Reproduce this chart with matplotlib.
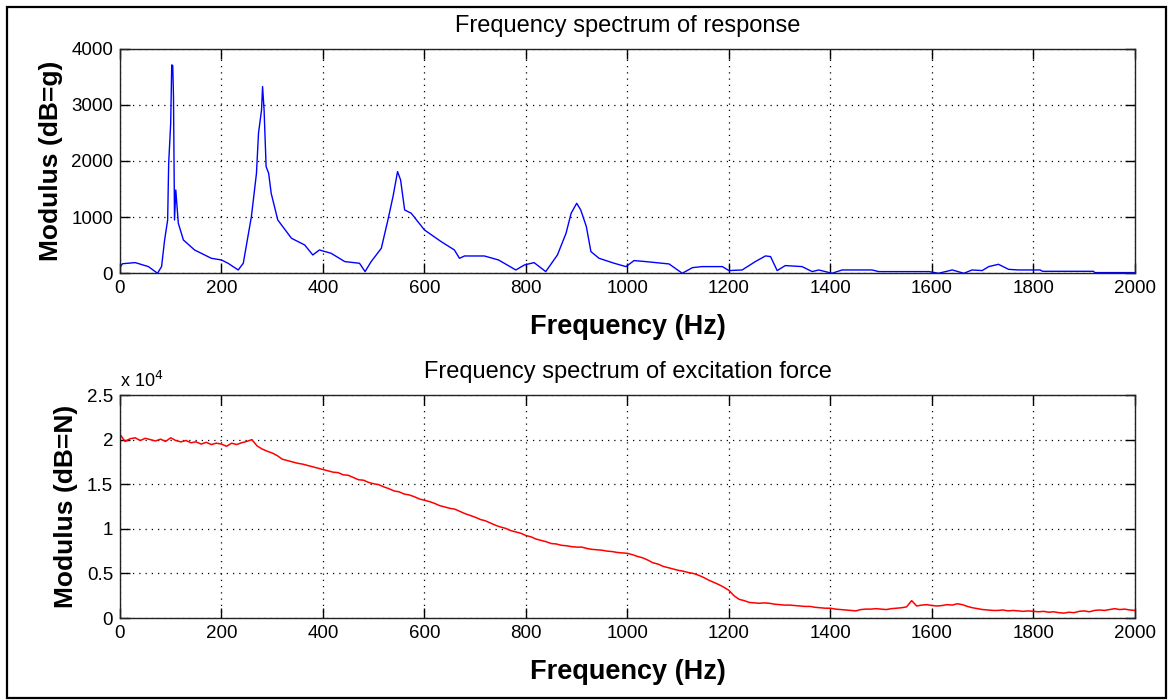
import numpy as np
import matplotlib
matplotlib.use("Agg")
import matplotlib.pyplot as plt
from matplotlib.patches import Rectangle
from matplotlib.ticker import FuncFormatter

plt.rcParams['font.family'] = ['Liberation Sans', 'DejaVu Sans']

# response spectrum (Hz, modulus)
resp_freq = [0, 5, 30, 56, 74, 82, 88, 94, 96, 100, 102, 104, 105.5, 107.5, 110, 115, 125,
             147, 180, 200, 213, 233, 243, 259, 269, 273, 279, 281, 284, 288, 293, 298,
             311, 338, 364, 380, 393, 416, 443, 472, 483, 495, 515, 528, 538, 547, 553,
             561, 574, 600, 633, 659, 669, 679, 718, 746, 780, 797, 816, 839, 862, 879,
             889, 900, 908, 919, 928, 944, 974, 997, 1013, 1036, 1082, 1108, 1128, 1147,
             1187, 1200, 1226, 1252, 1272, 1282, 1295, 1311, 1344, 1364, 1377, 1403, 1423,
             1482, 1495, 1594, 1613, 1640, 1663, 1679, 1699, 1712, 1731, 1751, 1770, 1813,
             1818, 1918, 1921, 2000]
resp_mod = [110, 170, 190, 119, 0, 119, 593, 949, 1958, 2670, 3709, 3700, 3145, 949, 1483, 890, 593,
            415, 267, 237, 178, 59, 178, 1009, 1780, 2493, 2908, 3324, 2908, 1899, 1780, 1424,
            949, 623, 504, 326, 415, 356, 208, 178, 30, 208, 445, 949, 1364, 1810, 1661,
            1127, 1068, 771, 563, 415, 267, 308, 308, 237, 59, 148, 190, 30, 326, 712,
            1068, 1246, 1127, 831, 386, 267, 178, 119, 226, 208, 166, 0, 100, 119,
            119, 48, 59, 208, 309, 297, 48, 137, 119, 30, 59, 0, 59,
            59, 30, 30, 0, 59, 0, 59, 48, 119, 160, 70, 59, 59,
            35, 35, 12, 12]

# excitation force spectrum, sampled every 10 Hz
force_freq = np.arange(0, 2001, 10)
force_mod = [
    20600, 19800, 20100, 20200, 19900, 20150, 20000, 19850, 20050, 19800,
    20200, 19900, 19750, 19900, 19650, 19750, 19500, 19700, 19450, 19600,
    19500, 19250, 19600, 19450, 19650, 19800, 20000, 19300, 18950, 18700,
    18500, 18200, 17800, 17650, 17500, 17350, 17250, 17100, 16950, 16800,
    16650, 16500, 16350, 16300, 16050, 16000, 15750, 15500, 15450, 15200,
    15050, 14950, 14700, 14500, 14250, 14150, 13900, 13800, 13600, 13350,
    13200, 13050, 12850, 12600, 12450, 12300, 12200, 11950, 11700, 11500,
    11300, 11050, 10900, 10650, 10400, 10200, 10050, 9800, 9650, 9500,
    9250, 9100, 8850, 8700, 8550, 8350, 8300, 8150, 8100, 8000,
    7950, 7950, 7800, 7700, 7650, 7600, 7500, 7450, 7350, 7300,
    7250, 7100, 6900, 6750, 6500, 6200, 6050, 5800, 5650, 5500,
    5350, 5250, 5100, 5000, 4800, 4550, 4250, 4000, 3750, 3450,
    3100, 2500, 2100, 1950, 1750, 1700, 1650, 1700, 1650, 1550,
    1500, 1450, 1450, 1400, 1350, 1300, 1300, 1200, 1150, 1100,
    1100, 1000, 950, 900, 850, 800, 950, 1000, 1000, 1050,
    1000, 950, 1050, 1100, 1150, 1250, 1950, 1350, 1450, 1500,
    1400, 1350, 1400, 1500, 1450, 1600, 1500, 1300, 1150, 1050,
    950, 900, 850, 850, 900, 800, 850, 800, 750, 800,
    750, 700, 750, 650, 700, 600, 550, 650, 600, 750,
    800, 700, 850, 900, 850, 950, 1050, 950, 1000, 900,
    850]

x_ticks = np.arange(0, 2001, 200)

fig = plt.figure(figsize=(11.68, 7.0), dpi=100)
fig.patches.append(Rectangle((0.006, 0.003), 0.992, 0.987, transform=fig.transFigure,
                             fill=False, edgecolor='black', linewidth=1.6))


def style_axes(ax):
    ax.grid(True, color='black', linestyle=(0, (1, 4)), linewidth=0.9)
    ax.tick_params(direction='in', length=7, width=1, top=True, right=True,
                   labelsize=13.5, pad=5)
    for s in ax.spines.values():
        s.set_linewidth(1.0)
        s.set_color('#222222')
    ax.set_xlim(0, 2000)
    ax.set_xticks(x_ticks)
    ax.set_xlabel("Frequency (Hz)", fontsize=19.5, fontweight='bold', labelpad=12)


ax1 = fig.add_axes([0.1027, 0.6096, 0.8690, 0.3210])
ax1.plot(resp_freq, resp_mod, color=(0, 0, 1), linewidth=1.0)
style_axes(ax1)
ax1.set_ylim(0, 4000)
ax1.set_yticks([0, 1000, 2000, 3000, 4000])
ax1.set_ylabel("Modulus (dB=g)", fontsize=19, fontweight='bold', labelpad=6)
ax1.set_title("Frequency spectrum of response", fontsize=17, pad=12)

ax2 = fig.add_axes([0.1027, 0.1171, 0.8690, 0.3186])
ax2.plot(force_freq, force_mod, color=(1, 0, 0), linewidth=1.1)
style_axes(ax2)
ax2.set_ylim(0, 25000)
ax2.set_yticks(np.arange(0, 25001, 5000))
ax2.yaxis.set_major_formatter(FuncFormatter(lambda v, p: f"{v / 1e4:g}"))
ax2.set_ylabel("Modulus (dB=N)", fontsize=19, fontweight='bold', labelpad=6)
ax2.set_title("Frequency spectrum of excitation force", fontsize=17, pad=12)
ax2.text(0.0, 1.02, r"x 10$^{4}$", transform=ax2.transAxes, fontsize=13,
         ha='left', va='bottom')

fig.savefig("out.png", dpi=100)
